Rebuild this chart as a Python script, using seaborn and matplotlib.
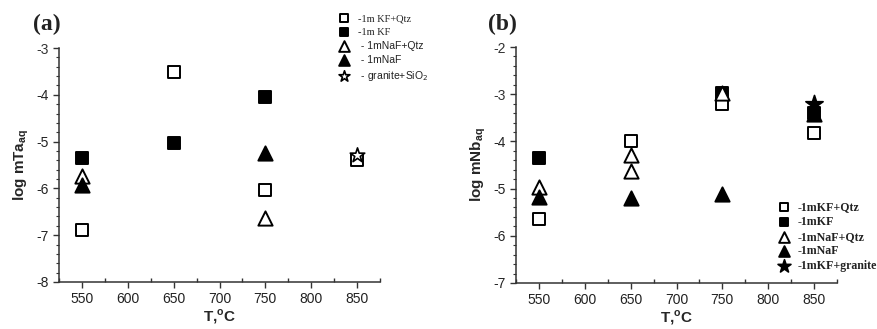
import matplotlib
matplotlib.use("Agg")
import matplotlib.pyplot as plt
from matplotlib.ticker import MultipleLocator
import seaborn as sns
import pandas as pd

# panel (a): log mTa_aq
a_kf_qtz_T = [550, 650, 750, 850]
a_kf_qtz = [-6.89, -3.51, -6.04, -5.39]
a_kf_T = [550, 650, 750]
a_kf = [-5.36, -5.02, -4.04]
a_naf_qtz_T = [550, 750]
a_naf_qtz = [-5.74, -6.64]
a_naf_T = [550, 750]
a_naf = [-5.93, -5.25]
a_granite_T = [850]
a_granite = [-5.29]

# panel (b): log mNb_aq
b_kf_qtz_T = [550, 650, 750, 850]
b_kf_qtz = [-5.65, -3.99, -3.21, -3.82]
b_kf_T = [550, 750, 850]
b_kf = [-4.36, -2.97, -3.4]
b_naf_qtz_T = [550, 650, 650, 750]
b_naf_qtz = [-4.97, -4.28, -4.63, -2.98]
b_naf_T = [550, 650, 750, 850]
b_naf = [-5.18, -5.2, -5.12, -3.42]
b_granite_T = [850]
b_granite = [-3.2]

a_labels = ["-1m KF+Qtz", "-1m KF", " - 1mNaF+Qtz", " - 1mNaF", " - granite+SiO$_2$"]
b_labels = ["-1mKF+Qtz", "-1mKF", "-1mNaF+Qtz", "-1mNaF", "-1mKF+granite"]

sns.set_style("ticks")
plt.rcParams["font.family"] = ["Liberation Sans", "DejaVu Sans"]
plt.rcParams["axes.unicode_minus"] = False

ink = "#333333"

# marker, face colour, size
styles = [("s", "white", 72), ("s", "black", 72), ("^", "white", 105), ("^", "black", 105)]


def draw_panel(ax, groups, labels, star_face, star_size):
    for (T, v), (m, fc, sz), lab in zip(groups[:4], styles, labels[:4]):
        df = pd.DataFrame({"T": T, "v": v})
        sns.scatterplot(data=df, x="T", y="v", marker=m, s=sz, color=fc,
                        edgecolor="black", linewidth=1.4, label=lab, ax=ax, zorder=3)
    T, v = groups[4]
    df = pd.DataFrame({"T": T, "v": v})
    sns.scatterplot(data=df, x="T", y="v", marker="*", s=star_size, color=star_face,
                    edgecolor="black", linewidth=1.2, label=labels[4], ax=ax, zorder=4)

    ax.set_xlim(525, 875)
    ax.xaxis.set_major_locator(MultipleLocator(50))
    ax.xaxis.set_minor_locator(MultipleLocator(25))
    ax.yaxis.set_major_locator(MultipleLocator(1))
    ax.yaxis.set_minor_locator(MultipleLocator(0.2))
    ax.tick_params(axis="x", which="major", direction="out", length=4, width=1, colors=ink, labelsize=10)
    ax.tick_params(axis="x", which="minor", direction="in", length=3, width=1, colors=ink)
    ax.tick_params(axis="y", which="major", direction="out", length=4, width=1, colors=ink, labelsize=10)
    ax.tick_params(axis="y", which="minor", direction="out", length=2, width=0.8, colors=ink)
    for t in ax.get_xticklabels() + ax.get_yticklabels():
        t.set_color("#222222")
    for s in ["top", "right"]:
        ax.spines[s].set_visible(False)
    for s in ["left", "bottom"]:
        ax.spines[s].set_color(ink)
        ax.spines[s].set_linewidth(1.1)
    ax.set_xlabel("T,$^\\mathregular{o}$C", fontsize=11, fontweight="bold", labelpad=1)


fig = plt.figure(figsize=(8.77, 3.29), dpi=100)
ax_a = fig.add_axes([0.0673, 0.143, 0.366, 0.711])
ax_b = fig.add_axes([0.5884, 0.140, 0.366, 0.717])

draw_panel(ax_a, [(a_kf_qtz_T, a_kf_qtz), (a_kf_T, a_kf), (a_naf_qtz_T, a_naf_qtz),
                  (a_naf_T, a_naf), (a_granite_T, a_granite)], a_labels, "white", 120)
ax_a.set_ylim(-8, -3)
ax_a.set_ylabel("log mTa$_\\mathregular{aq}$", fontsize=11, fontweight="bold", labelpad=4)
leg_a = ax_a.legend(loc="upper left", bbox_to_anchor=(0.872, 1.146), frameon=False,
                    fontsize=7.5, handlelength=1.0, handletextpad=0.8, labelspacing=0.4,
                    markerscale=0.75, borderaxespad=0, borderpad=0)
for t in leg_a.get_texts()[:2]:
    t.set_family("Liberation Serif")
for t in leg_a.get_texts():
    t.set_color("#222222")

draw_panel(ax_b, [(b_kf_qtz_T, b_kf_qtz), (b_kf_T, b_kf), (b_naf_qtz_T, b_naf_qtz),
                  (b_naf_T, b_naf), (b_granite_T, b_granite)], b_labels, "black", 170)
ax_b.set_ylim(-7, -2)
ax_b.set_ylabel("log mNb$_\\mathregular{aq}$", fontsize=11, fontweight="bold", labelpad=4)
leg_b = ax_b.legend(loc="upper left", bbox_to_anchor=(0.815, 0.345), frameon=False,
                    handlelength=1.0, handletextpad=0.7, labelspacing=0.22,
                    markerscale=0.75, borderaxespad=0, borderpad=0,
                    prop={"family": "Liberation Serif", "weight": "bold", "size": 8.6})
for t in leg_b.get_texts():
    t.set_color("#222222")

fig.text(0.038, 0.925, "(a)", fontsize=17, fontweight="bold", family="Liberation Serif",
         va="center", ha="left", color="#222222")
fig.text(0.556, 0.925, "(b)", fontsize=17, fontweight="bold", family="Liberation Serif",
         va="center", ha="left", color="#222222")

fig.savefig("out.png", dpi=100)
